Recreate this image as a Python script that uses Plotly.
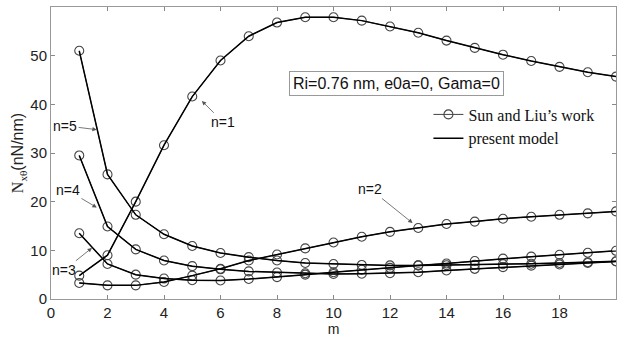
import plotly.graph_objects as go

m = list(range(1, 21))
n1 = [4.8, 9.0, 20.0, 31.6, 41.6, 49.0, 54.0, 56.8, 57.9, 57.9, 57.2, 56.0, 54.7, 53.1, 51.6, 50.2, 48.9, 47.7, 46.6, 45.7]
n2 = [3.3, 2.8, 2.8, 3.5, 4.8, 6.2, 7.9, 9.15, 10.4, 11.6, 12.8, 13.8, 14.6, 15.4, 15.9, 16.5, 16.9, 17.3, 17.6, 18.0]
n3 = [13.5, 7.2, 5.0, 4.2, 3.85, 3.8, 4.1, 4.5, 5.0, 5.5, 6.0, 6.4, 6.9, 7.3, 7.8, 8.3, 8.7, 9.1, 9.5, 9.9]
n4 = [29.5, 14.9, 10.2, 7.9, 6.75, 6.1, 5.67, 5.45, 5.3, 5.15, 5.2, 5.3, 5.5, 5.85, 6.2, 6.55, 6.85, 7.1, 7.4, 7.7]
n5 = [51.0, 25.6, 17.3, 13.3, 10.9, 9.45, 8.6, 7.9, 7.4, 7.2, 7.0, 6.9, 6.9, 6.95, 7.05, 7.15, 7.25, 7.4, 7.55, 7.75]
series = [n1, n2, n3, n4, n5]

x_ticks = list(range(0, 20, 2))
y_ticks = list(range(0, 60, 10))

legend_names = ["Sun and Liu\u2019s work", "present model"]
info_text = "Ri=0.76 nm, e0a=0, Gama=0"

# label text, arrow head (x, y), text position (x, y)
labels = [
    ("n=5", 1.62, 34.8, 0.5, 35.6),
    ("n=4", 1.62, 18.8, 0.6, 22.3),
    ("n=3", 1.45, 10.5, 0.46, 5.9),
    ("n=1", 5.34, 40.7, 6.1, 36.3),
    ("n=2", 12.8, 15.6, 11.3, 22.6),
]

fig = go.Figure()
for i, s in enumerate(series):
    fig.add_trace(go.Scatter(
        x=m, y=s, mode="lines+markers", name=legend_names[0],
        showlegend=(i == 0), legendgroup="sun",
        line=dict(color="#444444", width=1),
        marker=dict(symbol="circle-open", size=9, color="#444444", line=dict(width=1.1)),
    ))
for i, s in enumerate(series):
    fig.add_trace(go.Scatter(
        x=m, y=s, mode="lines", name=legend_names[1],
        showlegend=(i == 0), legendgroup="present",
        line=dict(color="black", width=1.5),
    ))

for txt, hx, hy, tx, ty in labels:
    fig.add_annotation(
        x=hx, y=hy, ax=tx, ay=ty, xref="x", yref="y", axref="x", ayref="y",
        text=txt, showarrow=True, arrowhead=2, arrowsize=1.1, arrowwidth=0.8,
        arrowcolor="#555555", font=dict(family="Liberation Sans, Arial", size=14, color="#111111"),
    )

fig.add_annotation(
    x=12.23, y=44.3, xref="x", yref="y", text=info_text, showarrow=False,
    font=dict(family="Liberation Sans, Arial", size=16, color="#111111"),
    bordercolor="#999999", borderwidth=1, borderpad=3, bgcolor="white",
)

axis_common = dict(
    showgrid=False, zeroline=False, showline=True, linecolor="#999999", linewidth=1,
    mirror="ticks", ticks="inside", ticklen=4, tickcolor="#888888",
    tickfont=dict(family="Liberation Sans, Arial", size=15, color="#222222"),
)

fig.update_xaxes(range=[0, 20], tickvals=x_ticks, **axis_common,
                 title=dict(text="m", font=dict(family="Liberation Sans, Arial", size=14, color="#222222"), standoff=2))
fig.update_yaxes(range=[0, 60], tickvals=y_ticks, **axis_common,
                 title=dict(text="<span style='font-family:Liberation Serif'>N<sub>x\u03b8</sub></span>(nN/nm)",
                            font=dict(family="Liberation Sans, Arial", size=16, color="#222222"), standoff=2))

fig.update_layout(
    width=622, height=338,
    margin=dict(l=51, r=5, t=7, b=34),
    plot_bgcolor="white", paper_bgcolor="white",
    legend=dict(x=0.668, y=0.69, xanchor="left", yanchor="top", bgcolor="rgba(0,0,0,0)",
                font=dict(family="Liberation Serif, Times New Roman", size=16, color="#111111"),
                itemwidth=30, tracegroupgap=0),
)

fig.write_html("out.html")
